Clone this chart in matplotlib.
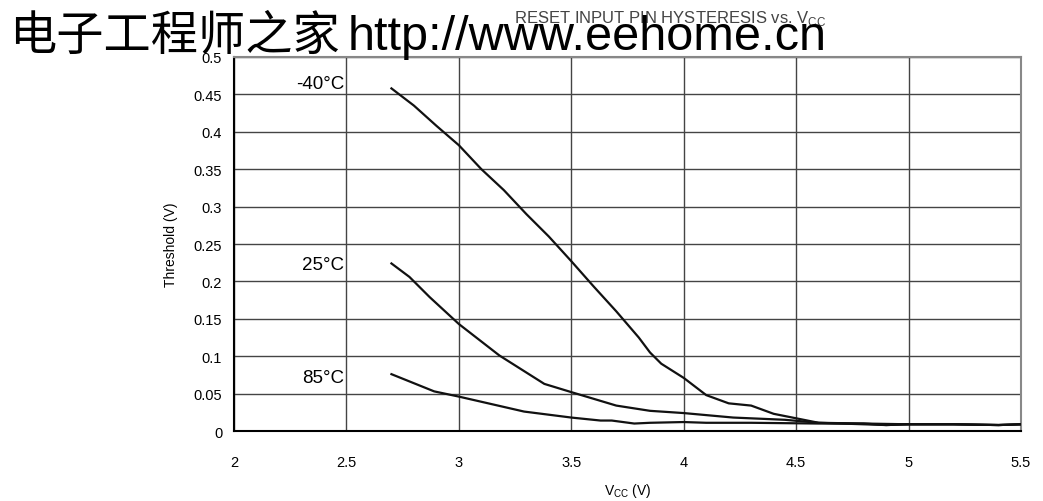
import numpy as np
import matplotlib.pyplot as plt

plt.rcParams['font.family'] = ['Liberation Sans', 'DejaVu Sans']

# threshold curves
vcc_m40 = [2.7, 2.8, 2.9, 3.0, 3.1, 3.2, 3.3, 3.4, 3.5, 3.6, 3.7, 3.8, 3.85, 3.9,
           4.0, 4.1, 4.2, 4.3, 4.4, 4.5, 4.6, 4.7, 4.8, 4.9, 5.0, 5.2, 5.4, 5.5]
thr_m40 = [0.458, 0.435, 0.408, 0.382, 0.35, 0.322, 0.29, 0.26, 0.227, 0.193, 0.16,
           0.125, 0.105, 0.09, 0.071, 0.048, 0.037, 0.034, 0.023, 0.017, 0.011,
           0.010, 0.009, 0.008, 0.009, 0.009, 0.008, 0.009]

vcc_25 = [2.7, 2.78, 2.87, 3.0, 3.18, 3.38, 3.5, 3.7, 3.85, 4.0, 4.22, 4.45, 4.6,
          4.8, 5.0, 5.2, 5.4, 5.5]
thr_25 = [0.224, 0.206, 0.179, 0.143, 0.101, 0.063, 0.052, 0.034, 0.027, 0.024,
          0.018, 0.015, 0.011, 0.010, 0.009, 0.009, 0.008, 0.009]

vcc_85 = [2.7, 2.89, 3.0, 3.29, 3.5, 3.63, 3.68, 3.78, 3.85, 4.0, 4.1, 4.3, 4.6,
          4.8, 4.9, 5.0, 5.2, 5.4, 5.5]
thr_85 = [0.076, 0.053, 0.046, 0.026, 0.018, 0.014, 0.014, 0.010, 0.011, 0.012,
          0.011, 0.011, 0.010, 0.010, 0.008, 0.009, 0.009, 0.008, 0.009]

curve_labels = ['-40°C', '25°C', '85°C']
label_y = [0.464, 0.223, 0.072]

x_ticks = [2, 2.5, 3, 3.5, 4, 4.5, 5, 5.5]
x_ticklabels = ['2', '2.5', '3', '3.5', '4', '4.5', '5', '5.5']
y_ticks = [0, 0.05, 0.1, 0.15, 0.2, 0.25, 0.3, 0.35, 0.4, 0.45, 0.5]
y_ticklabels = ['0', '0.05', '0.1', '0.15', '0.2', '0.25', '0.3', '0.35', '0.4', '0.45', '0.5']

fig = plt.figure(figsize=(10.43, 5.02), dpi=100)
ax = fig.add_axes([0.2244, 0.1394, 0.7545, 0.7451])

for xs, ys in [(vcc_m40, thr_m40), (vcc_25, thr_25), (vcc_85, thr_85)]:
    ax.plot(xs, ys, color='#111111', lw=1.6, zorder=3)

for lab, yy in zip(curve_labels, label_y):
    ax.text(2.49, yy, lab, ha='right', va='center', fontsize=13.5)

ax.set_xlim(2, 5.5)
ax.set_ylim(0, 0.5)
ax.set_xticks(x_ticks)
ax.set_xticklabels(x_ticklabels)
ax.set_yticks(y_ticks)
ax.set_yticklabels(y_ticklabels)
ax.tick_params(length=0, labelsize=10.5)
ax.tick_params(axis='y', pad=8.5)
ax.tick_params(axis='x', pad=17)
ax.grid(True, color='#444444', lw=1)
ax.set_axisbelow(True)
for s in ['left', 'bottom']:
    ax.spines[s].set_color('black')
    ax.spines[s].set_linewidth(1.5)
for s in ['top', 'right']:
    ax.spines[s].set_color('#888888')
    ax.spines[s].set_linewidth(1.5)

ax.set_ylabel('Threshold (V)', fontsize=10, labelpad=11)
ax.set_xlabel('V$_{\\mathregular{CC}}$ (V)', fontsize=10, labelpad=9)

fig.text(0.6424, 0.982, 'RESET INPUT PIN HYSTERESIS vs. V$_{\\mathregular{CC}}$',
         ha='center', va='top', fontsize=12, color='#444444')

# watermark across the top
fig.text(0.009, 0.9, '电子工程师之家', ha='left', va='baseline',
         fontsize=34, family=['Noto Sans CJK SC'], color='black')
fig.text(0.333, 0.9, 'http://www.eehome.cn', ha='left', va='baseline',
         fontsize=35, color='black')

fig.savefig('out.png', dpi=100)
